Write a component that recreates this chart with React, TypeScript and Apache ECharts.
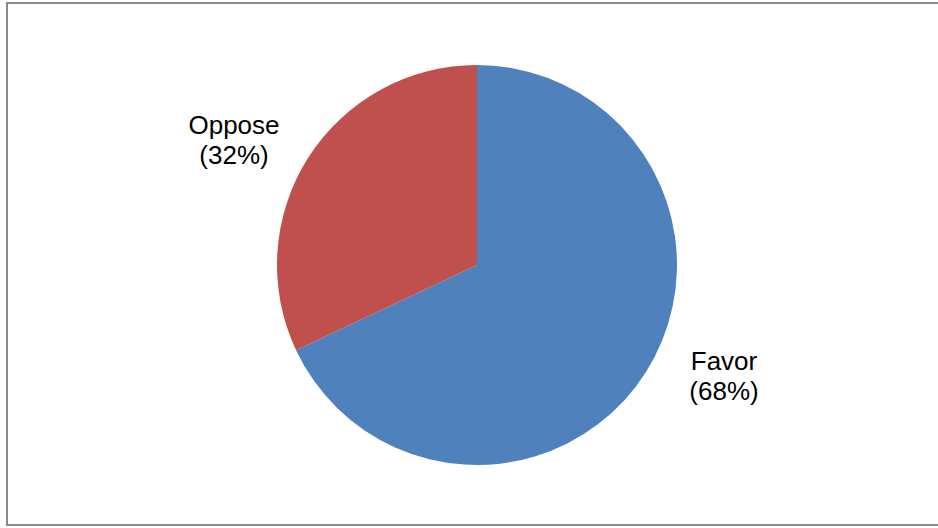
import React, { useEffect, useRef } from "react";
import * as echarts from "echarts";

const categories = ["Favor", "Oppose"];
const values = [68, 32];
const colors = ["#4F81BD", "#C0504D"];
const labelPositions = [
  [724, 376],
  [234, 140],
];

export default function App() {
  const ref = useRef<HTMLDivElement>(null);
  useEffect(() => {
    if (!ref.current) return;
    const chart = echarts.init(ref.current, null, { renderer: "svg" });
    chart.setOption({
      animation: false,
      backgroundColor: "#ffffff",
      graphic: [
        {
          type: "rect",
          shape: { x: 7, y: 3, width: 960, height: 522 },
          style: { fill: "none", stroke: "#898989", lineWidth: 2 },
          silent: true,
        },
      ],
      series: [
        {
          type: "pie",
          center: [477, 265],
          radius: 200,
          startAngle: 90,
          clockwise: true,
          data: categories.map((name, i) => ({
            name,
            value: values[i],
            itemStyle: { color: colors[i] },
          })),
          label: {
            show: true,
            position: "outside",
            formatter: (p: any) => `${p.name}\n(${p.value}%)`,
            fontFamily: "Liberation Sans, Arial, sans-serif",
            fontSize: 26,
            lineHeight: 30,
            color: "#000000",
            align: "center",
          },
          labelLine: { show: false },
          labelLayout: (params: any) => {
            const pos = labelPositions[params.dataIndex];
            return {
              x: pos[0],
              y: pos[1],
              align: "center",
              verticalAlign: "middle",
            };
          },
        },
      ],
    });
    return () => chart.dispose();
  }, []);
  return (
    <div
      ref={ref}
      style={{ position: "fixed", left: 0, top: 0, width: 938, height: 528 }}
    />
  );
}
